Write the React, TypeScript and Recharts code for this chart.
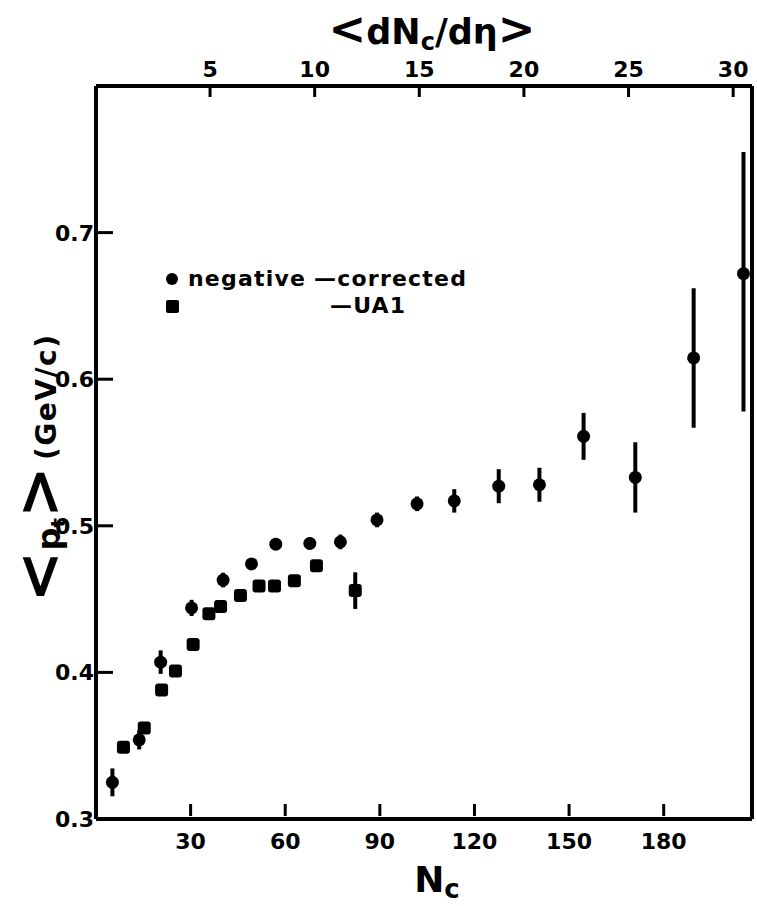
import React from 'react';
import {
  ComposedChart,
  Scatter,
  XAxis,
  YAxis,
  ErrorBar,
  Legend,
  Label,
} from 'recharts';

// negative - corrected (filled circles)
const NEG_NC = [5.2, 13.7, 20.5, 30.3, 40.3, 49.3, 57.0, 67.8, 77.5, 89.1, 101.8, 113.6, 127.7, 140.6, 154.6, 171.0, 189.5, 205.3];
const NEG_PT = [0.325, 0.354, 0.407, 0.444, 0.463, 0.474, 0.4875, 0.488, 0.489, 0.504, 0.515, 0.517, 0.527, 0.528, 0.561, 0.533, 0.6145, 0.672];
const NEG_ERR: (number | number[])[] = [0.0095, 0.0065, 0.008, 0.0055, 0.005, 0.004, 0.004, 0.004, 0.005, 0.005, 0.005, 0.008, 0.0116, 0.0116, 0.016, 0.024, 0.0476, [0.094, 0.083]];

// UA1 (filled squares)
const UA1_NC = [8.7, 15.3, 20.8, 25.2, 30.8, 35.8, 39.5, 45.8, 51.7, 56.6, 62.9, 69.9, 82.2];
const UA1_PT = [0.349, 0.362, 0.388, 0.401, 0.419, 0.44, 0.445, 0.4524, 0.459, 0.459, 0.4626, 0.4728, 0.4558];
const UA1_ERR = [0, 0, 0, 0, 0, 0, 0, 0, 0, 0, 0, 0, 0.0125];

const NC_TICKS = [30, 60, 90, 120, 150, 180];
const DNDETA_TICKS = [5, 10, 15, 20, 25, 30];
const PT_TICKS = [0.3, 0.4, 0.5, 0.6, 0.7];

const negData = NEG_NC.map((nc, i) => ({ nc, pt: NEG_PT[i], err: NEG_ERR[i] }));
const ua1Data = UA1_NC.map((nc, i) => ({ nc, pt: UA1_PT[i], err: UA1_ERR[i] }));
// anchors the upper <dNc/dη> axis so it gets a scale; drawn as nothing
const topAxisData = DNDETA_TICKS.map((dn) => ({ dn, pt: 0.3 }));

const FONT = '"DejaVu Sans", sans-serif';
const numStyle: React.CSSProperties = { fontFamily: FONT, fontWeight: 700, fontSize: 22, fill: '#000' };

const Dot = (p: any) => <circle cx={p.cx} cy={p.cy} r={6.5} fill="#000" />;
const Sq = (p: any) => (
  <rect x={p.cx - 6.5} y={p.cy - 6.5} width={13} height={13} rx={3} fill="#000" />
);
const Nothing = () => <g />;

const BottomTick = (p: any) => (
  <g>
    <line x1={p.x} y1={p.y - 3} x2={p.x} y2={p.y - 15} stroke="#000" strokeWidth={3} />
    <text x={p.x} y={p.y + 30} textAnchor="middle" style={numStyle}>
      {p.payload.value}
    </text>
  </g>
);

const TopTick = (p: any) => (
  <g>
    <line x1={p.x} y1={p.y + 2} x2={p.x} y2={p.y + 11} stroke="#000" strokeWidth={3} />
    <text x={p.x} y={p.y - 9} textAnchor="middle" style={numStyle}>
      {p.payload.value}
    </text>
  </g>
);

const LeftTick = (p: any) => (
  <g>
    {p.payload.value > 0.3 && (
      <line x1={p.x} y1={p.y} x2={p.x + 17} y2={p.y} stroke="#000" strokeWidth={3} />
    )}
    <text x={p.x - 2} y={p.y + 8} textAnchor="end" style={numStyle}>
      {Number(p.payload.value).toFixed(1)}
    </text>
  </g>
);

const TopTitle = () => (
  <text x={432} y={44} textAnchor="middle" style={{ fontFamily: FONT, fontWeight: 700, fill: '#000' }}>
    <tspan fontSize={45}>{'<'}</tspan>
    <tspan fontSize={35}>dN</tspan>
    <tspan fontSize={24} dy={6}>c</tspan>
    <tspan fontSize={35} dy={-6}>/dη</tspan>
    <tspan fontSize={45}>{'>'}</tspan>
  </text>
);

const BottomTitle = () => (
  <text x={437} y={892} textAnchor="middle" style={{ fontFamily: FONT, fontWeight: 700, fill: '#000' }}>
    <tspan fontSize={36}>N</tspan>
    <tspan fontSize={26} dy={6}>c</tspan>
  </text>
);

const LeftTitle = () => (
  <text
    x={60}
    y={468}
    transform="rotate(-90, 60, 468)"
    textAnchor="middle"
    style={{ fontFamily: FONT, fontWeight: 700, fill: '#000' }}
  >
    <tspan fontSize={62}>{'<'}</tspan>
    <tspan fontSize={32}>p</tspan>
    <tspan fontSize={20} dy={5}>t</tspan>
    <tspan fontSize={62} dy={-5}>{'>'}</tspan>
    <tspan fontSize={28} letterSpacing={1.5} dx={6} dy={-4}>(GeV/c)</tspan>
  </text>
);

const LegendBox = () => (
  <div
    style={{
      position: 'relative',
      width: 360,
      height: 60,
      fontFamily: FONT,
      fontWeight: 700,
      fontSize: 22,
      letterSpacing: 1.2,
      lineHeight: '26px',
      color: '#000',
    }}
  >
    <div style={{ position: 'absolute', left: 6, top: 7, width: 12, height: 12, borderRadius: 6, background: '#000' }} />
    <div style={{ position: 'absolute', left: 28, top: 0, whiteSpace: 'nowrap' }}>
      negative<span style={{ marginLeft: 8 }}>—corrected</span>
    </div>
    <div style={{ position: 'absolute', left: 6, top: 34, width: 13, height: 13, borderRadius: 2, background: '#000' }} />
    <div style={{ position: 'absolute', left: 170, top: 27, whiteSpace: 'nowrap' }}>—UA1</div>
  </div>
);

export default function App() {
  return (
    <div style={{ position: 'absolute', left: 0, top: 0, background: '#fff' }}>
      <ComposedChart width={757} height={906} margin={{ top: 0, right: 0, bottom: 0, left: 0 }}>
        <XAxis
          xAxisId="bottom"
          dataKey="nc"
          type="number"
          orientation="bottom"
          domain={[0, 208]}
          ticks={NC_TICKS}
          height={87}
          tickSize={0}
          tickMargin={0}
          tick={BottomTick}
          tickLine={false}
          axisLine={{ stroke: '#000', strokeWidth: 4 }}
          allowDataOverflow
        >
          <Label content={BottomTitle} />
        </XAxis>
        <XAxis
          xAxisId="top"
          dataKey="dn"
          type="number"
          orientation="top"
          domain={[-0.45, 30.9]}
          ticks={DNDETA_TICKS}
          height={86}
          tickSize={0}
          tickMargin={0}
          tick={TopTick}
          tickLine={false}
          axisLine={{ stroke: '#000', strokeWidth: 4 }}
          allowDataOverflow
        >
          <Label content={TopTitle} />
        </XAxis>
        <YAxis
          yAxisId="left"
          dataKey="pt"
          type="number"
          domain={[0.3, 0.8]}
          ticks={PT_TICKS}
          width={96}
          tickSize={0}
          tickMargin={0}
          tick={LeftTick}
          tickLine={false}
          axisLine={{ stroke: '#000', strokeWidth: 4 }}
          allowDataOverflow
        >
          <Label content={LeftTitle} />
        </YAxis>
        <YAxis
          yAxisId="right"
          dataKey="pt"
          orientation="right"
          type="number"
          domain={[0.3, 0.8]}
          width={5}
          tick={false}
          tickLine={false}
          axisLine={{ stroke: '#000', strokeWidth: 4 }}
          allowDataOverflow
        />
        <Legend
          layout="vertical"
          align="center"
          verticalAlign="middle"
          content={LegendBox}
          wrapperStyle={{ left: 160, top: 266, width: 360, height: 60 }}
        />
        <Scatter
          data={topAxisData}
          xAxisId="top"
          yAxisId="right"
          shape={Nothing}
          legendType="none"
          isAnimationActive={false}
        />
        <Scatter
          name="UA1"
          data={ua1Data}
          xAxisId="bottom"
          yAxisId="left"
          shape={Sq}
          isAnimationActive={false}
        >
          <ErrorBar dataKey="err" direction="y" width={0} stroke="#000" strokeWidth={4} />
        </Scatter>
        <Scatter
          name="negative - corrected"
          data={negData}
          xAxisId="bottom"
          yAxisId="left"
          shape={Dot}
          isAnimationActive={false}
        >
          <ErrorBar dataKey="err" direction="y" width={0} stroke="#000" strokeWidth={4} />
        </Scatter>
      </ComposedChart>
    </div>
  );
}
